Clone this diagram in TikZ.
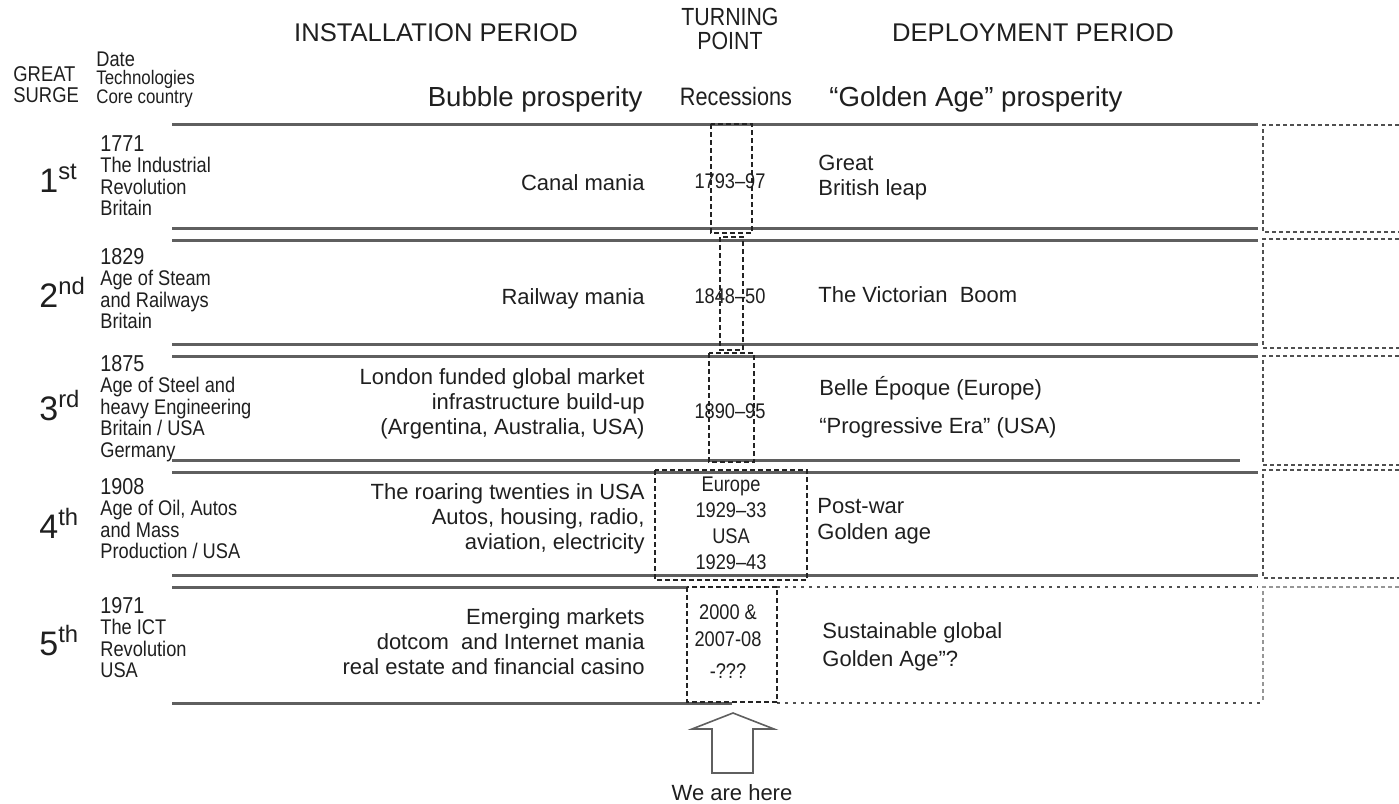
\documentclass[tikz,border=0pt]{standalone}
\usepackage{fontspec}
\setmainfont{Liberation Sans}
\newfontfamily\narrowfont[FakeStretch=0.86]{Liberation Sans}
\usetikzlibrary{calc}
\definecolor{rowGray}{RGB}{95, 95, 95}
\definecolor{boxDark}{RGB}{35, 35, 35}
\definecolor{boxGray}{RGB}{80, 80, 80}
\newcommand{\fsz}[2]{\fontsize{#1}{#2}\selectfont}

\begin{document}
\begin{tikzpicture}[
    x=0.5pt, y=-0.5pt,
    every node/.style={inner sep=0pt, text=black!88},
    % Estilo para lineas de filas
    row_line/.style={
        line width=1.5pt,
        draw=rowGray
    },
    % Cajas de punto de inflexion
    tp_box/.style={
        draw=boxDark,
        line width=0.75pt,
        dash pattern=on 2.5pt off 1.5pt
    },
    % Cajas abiertas a la derecha
    right_box/.style={
        draw=boxGray,
        line width=0.8pt,
        dash pattern=on 2pt off 1.5pt
    },
    dot_line/.style={
        draw=boxGray,
        line width=0.8pt,
        dash pattern=on 1.5pt off 2.5pt
    },
    head_big/.style={font=\fsz{12.8}{14}},
    head_prosp/.style={font=\fsz{13.8}{15}},
    ordinal/.style={anchor=base west, font=\fsz{17}{17}},
    surge_text/.style={anchor=north west, align=left, font=\narrowfont\fsz{10.6}{10.75}},
    install_text/.style={align=right, font=\fsz{11}{12.5}},
    turn_text/.style={align=center, font=\narrowfont\fsz{10.6}{13}},
    deploy_text/.style={align=left, font=\fsz{11}{12.5}}
]
    \useasboundingbox (0,0) rectangle (1399,804);
    \fill[white] (0,0) rectangle (1399,804);

    % --- 1. Encabezados ---
    \node[head_big] (inst_head) at (436,33) {INSTALLATION PERIOD};
    \node[align=center, anchor=north, font=\narrowfont\fsz{12.4}{12}] (turn_head) at (730,8) {TURNING\\POINT};
    \node[head_big] (depl_head) at (1033,33) {DEPLOYMENT PERIOD};

    \node[anchor=north west, align=left, font=\narrowfont\fsz{10.7}{10.5}] (surge_head) at (13,66) {GREAT\\SURGE};
    \node[anchor=base west, font=\narrowfont\fsz{10.6}{11}] (date_head) at (96,66) {Date};
    \node[anchor=base west, font=\narrowfont\fsz{9.8}{10}] (tech_head) at (96,84) {Technologies};
    \node[anchor=base west, font=\narrowfont\fsz{9.8}{10}] (core_head) at (96,103) {Core country};

    \node[head_prosp, anchor=base east] (bubble) at (643,106) {Bubble prosperity};
    \node[anchor=base, font=\narrowfont\fsz{12.6}{12}] (recess) at (736,105) {Recessions};
    \node[head_prosp, anchor=base west] (golden) at (829,106) {“Golden Age” prosperity};

    % --- 2. Lineas de filas ---
    \draw[row_line] (172,124) -- (1258,124);
    \foreach \y in {228, 240, 344, 356, 472, 575} {
        \draw[row_line] (172,\y) -- (1258,\y);
    }
    \draw[row_line] (172,460) -- (1240,460);
    \draw[row_line] (172,587) -- (687,587);
    \draw[row_line] (172,703) -- (732,703);
    \draw[dot_line] (777,587) -- (1258,587);
    \draw[dot_line] (777,703) -- (1263,703);

    % Cajas abiertas (derecha)
    \foreach \t/\b in {125/232, 239/348, 356/465, 470/578} {
        \draw[right_box] (1399,\t) -- (1263,\t) -- (1263,\b) -- (1399,\b);
    }
    \draw[right_box, draw=boxGray!60] (1399,587) -- (1263,587) -- (1263,703);

    % --- 3. Columna izquierda ---
    \node[ordinal] (surge1) at (39,192) {1\textsuperscript{st}};
    \node[ordinal] (surge2) at (39,307) {2\textsuperscript{nd}};
    \node[ordinal] (surge3) at (39,420) {3\textsuperscript{rd}};
    \node[ordinal] (surge4) at (39,538) {4\textsuperscript{th}};
    \node[ordinal] (surge5) at (39,655) {5\textsuperscript{th}};

    \node[surge_text] (tech1) at (100,135) {{\fsz{11.5}{11}1771}\\The Industrial\\Revolution\\Britain};
    \node[surge_text] (tech2) at (100,248) {{\fsz{11.5}{11}1829}\\Age of Steam\\and Railways\\Britain};
    \node[surge_text] (tech3) at (100,355) {{\fsz{11.5}{11}1875}\\Age of Steel and\\heavy Engineering\\Britain / USA\\Germany};
    \node[surge_text] (tech4) at (100,478) {{\fsz{11.5}{11}1908}\\Age of Oil, Autos\\and Mass\\Production / USA};
    \node[surge_text] (tech5) at (100,597) {{\fsz{11.5}{11}1971}\\The ICT\\Revolution\\USA};

    % --- 4. Periodo de instalacion ---
    \node[install_text, anchor=base east] (inst1) at (645,190) {Canal mania};
    \node[install_text, anchor=base east] (inst2) at (645,304) {Railway mania};
    \node[install_text, anchor=north east] (inst3) at (645,368) {London funded global market\\infrastructure build-up\\(Argentina, Australia, USA)};
    \node[install_text, anchor=north east] (inst4) at (645,483) {The roaring twenties in USA\\Autos, housing, radio,\\aviation, electricity};
    \node[install_text, anchor=north east] (inst5) at (645,608) {Emerging markets\\dotcom\ \ and Internet mania\\real estate and financial casino};

    % --- 5. Punto de inflexion ---
    \draw[tp_box] (711,124) rectangle (752,233);
    \draw[tp_box] (720,237) rectangle (743,350);
    \draw[tp_box] (709,353) rectangle (754,462);
    \draw[tp_box] (655,470) rectangle (807,580);
    \draw[tp_box] (687,587) rectangle (777,702);

    \node[turn_text, anchor=base] (turn1) at (730,188) {1793–97};
    \node[turn_text, anchor=base] (turn2) at (730,303) {1848–50};
    \node[turn_text, anchor=base] (turn3) at (730,418) {1890–95};
    \node[turn_text, anchor=north] (turn4) at (731,477) {Europe\\1929–33\\USA\\1929–43};
    \node[turn_text, anchor=north, font=\narrowfont\fsz{10.6}{13.5}] (turn5) at (728,604) {2000 \&\\2007-08\\[2.5pt]-???};

    % --- 6. Periodo de despliegue ---
    \node[deploy_text, anchor=north west] (depl1) at (818,155) {Great\\British leap};
    \node[deploy_text, anchor=base west] (depl2) at (818,302) {The Victorian\ \ Boom};
    \node[deploy_text, anchor=base west] (depl3a) at (819,395) {Belle Époque (Europe)};
    \node[deploy_text, anchor=base west] (depl3b) at (819,433) {“Progressive Era” (USA)};
    \node[deploy_text, anchor=north west, font=\fsz{11}{13}] (depl4) at (817,498) {Post-war\\Golden age};
    \node[deploy_text, anchor=north west, font=\fsz{11}{14}] (depl5) at (822,622) {Sustainable global\\Golden Age”?};

    % --- 7. Flecha "We are here" ---
    \draw[draw=rowGray, line width=0.8pt, fill=white]
        (712,773) -- (712,729) -- (692,729) -- (733,713) -- (774,729) -- (753,729) -- (753,773) -- cycle;
    \node[font=\fsz{11}{12}] (here) at (732,793) {We are here};

\end{tikzpicture}
\end{document}
